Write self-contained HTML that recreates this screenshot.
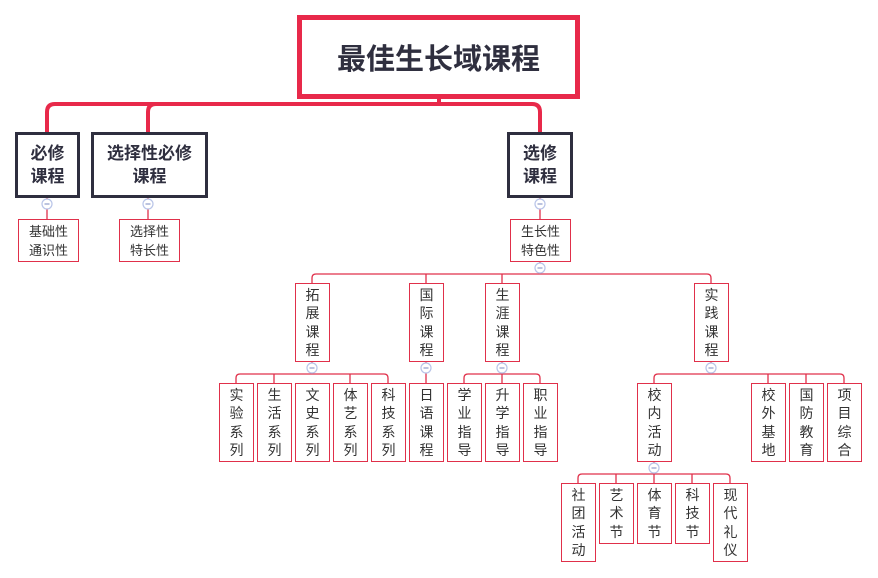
<!DOCTYPE html>
<html><head><meta charset="utf-8"><style>
body{margin:0;width:878px;height:578px;background:#fff;position:relative;overflow:hidden;font-family:"Liberation Sans","Noto Sans CJK SC",sans-serif;color:#333}
.b{position:absolute;box-sizing:border-box;border:1.5px solid #e0304a;background:#fff;display:flex;align-items:center;justify-content:center;text-align:center}
.v{font-size:14px;line-height:18.3px;width:34px}
.s{font-size:13px;line-height:19px}
.k{border:3px solid #2f2f3f;font-weight:bold;font-size:17px;line-height:23px;color:#2f2f3f}
svg{position:absolute;left:0;top:0;z-index:2}
</style></head><body>
<svg width="878" height="578" fill="none" style="z-index:0">
<g stroke="#e8294a" stroke-width="4">
<path d="M47 132 V112 Q47 104 55 104 H532 Q540 104 540 112 V132"/>
<path d="M148 132 V112 Q148 104 156 104"/>
<path d="M439 98 V104"/>
</g>
<g stroke="#e0304a" stroke-width="1.3">
<path d="M47 197 V219 M148 197 V219 M540 197 V219 M540 261 V274"/>
<path d="M312 283 V278 Q312 274 316 274 H707 Q711 274 711 278 V283 M426 274 V283 M502 274 V283"/>
<path d="M312 361 V374 M236 383 V378 Q236 374 240 374 H384 Q388 374 388 378 V383 M274 374 V383 M350 374 V383"/>
<path d="M426 361 V383"/>
<path d="M502 361 V374 M464 383 V378 Q464 374 468 374 H536 Q540 374 540 378 V383 M502 374 V383"/>
<path d="M711 361 V374 M654 383 V378 Q654 374 658 374 H840 Q844 374 844 378 V383 M768 374 V383 M806 374 V383"/>
<path d="M654 461 V474 M578 483 V478 Q578 474 582 474 H726 Q730 474 730 478 V483 M616 474 V483 M654 474 V483 M692 474 V483"/>
</g>
</svg>
<svg width="878" height="578" fill="none">
<g fill="#fff" stroke="#b8c4e8" stroke-width="1.2">
<circle cx="47" cy="204" r="5"/><circle cx="148" cy="204" r="5"/><circle cx="540" cy="204" r="5"/>
<circle cx="540" cy="268" r="5"/><circle cx="312" cy="368" r="5"/><circle cx="426" cy="368" r="5"/>
<circle cx="502" cy="368" r="5"/><circle cx="711" cy="368" r="5"/><circle cx="654" cy="468" r="5"/>
</g>
<g stroke="#7a88c0" stroke-width="1">
<path d="M44.5 204h5M145.5 204h5M537.5 204h5M537.5 268h5M309.5 368h5M423.5 368h5M499.5 368h5M708.5 368h5M651.5 468h5"/>
</g>
</svg>
<div class="b" style="left:297px;top:15px;width:283px;height:84px;border:5px solid #e8294a;font-size:29px;font-weight:bold;color:#2f2f3f">最佳生长域课程</div>
<div class="b k" style="left:15px;top:132px;width:65px;height:66px">必修<br>课程</div>
<div class="b k" style="left:91px;top:132px;width:117px;height:66px">选择性必修<br>课程</div>
<div class="b k" style="left:507px;top:132px;width:66px;height:66px">选修<br>课程</div>
<div class="b s" style="left:18px;top:219px;width:61px;height:43px">基础性<br>通识性</div>
<div class="b s" style="left:119px;top:219px;width:61px;height:43px">选择性<br>特长性</div>
<div class="b s" style="left:510px;top:219px;width:61px;height:43px">生长性<br>特色性</div>

<div class="b" style="left:295px;top:283px;width:35px;height:79px"><div class="v">拓<br>展<br>课<br>程</div></div>
<div class="b" style="left:409px;top:283px;width:35px;height:79px"><div class="v">国<br>际<br>课<br>程</div></div>
<div class="b" style="left:485px;top:283px;width:35px;height:79px"><div class="v">生<br>涯<br>课<br>程</div></div>
<div class="b" style="left:694px;top:283px;width:35px;height:79px"><div class="v">实<br>践<br>课<br>程</div></div>

<div class="b" style="left:219px;top:383px;width:35px;height:79px"><div class="v">实<br>验<br>系<br>列</div></div>
<div class="b" style="left:257px;top:383px;width:35px;height:79px"><div class="v">生<br>活<br>系<br>列</div></div>
<div class="b" style="left:295px;top:383px;width:35px;height:79px"><div class="v">文<br>史<br>系<br>列</div></div>
<div class="b" style="left:333px;top:383px;width:35px;height:79px"><div class="v">体<br>艺<br>系<br>列</div></div>
<div class="b" style="left:371px;top:383px;width:35px;height:79px"><div class="v">科<br>技<br>系<br>列</div></div>
<div class="b" style="left:409px;top:383px;width:35px;height:79px"><div class="v">日<br>语<br>课<br>程</div></div>
<div class="b" style="left:447px;top:383px;width:35px;height:79px"><div class="v">学<br>业<br>指<br>导</div></div>
<div class="b" style="left:485px;top:383px;width:35px;height:79px"><div class="v">升<br>学<br>指<br>导</div></div>
<div class="b" style="left:523px;top:383px;width:35px;height:79px"><div class="v">职<br>业<br>指<br>导</div></div>
<div class="b" style="left:637px;top:383px;width:35px;height:79px"><div class="v">校<br>内<br>活<br>动</div></div>
<div class="b" style="left:751px;top:383px;width:35px;height:79px"><div class="v">校<br>外<br>基<br>地</div></div>
<div class="b" style="left:789px;top:383px;width:35px;height:79px"><div class="v">国<br>防<br>教<br>育</div></div>
<div class="b" style="left:827px;top:383px;width:35px;height:79px"><div class="v">项<br>目<br>综<br>合</div></div>

<div class="b" style="left:561px;top:483px;width:35px;height:79px"><div class="v">社<br>团<br>活<br>动</div></div>
<div class="b" style="left:599px;top:483px;width:35px;height:61px"><div class="v">艺<br>术<br>节</div></div>
<div class="b" style="left:637px;top:483px;width:35px;height:61px"><div class="v">体<br>育<br>节</div></div>
<div class="b" style="left:675px;top:483px;width:35px;height:61px"><div class="v">科<br>技<br>节</div></div>
<div class="b" style="left:713px;top:483px;width:35px;height:79px"><div class="v">现<br>代<br>礼<br>仪</div></div>
</body></html>
